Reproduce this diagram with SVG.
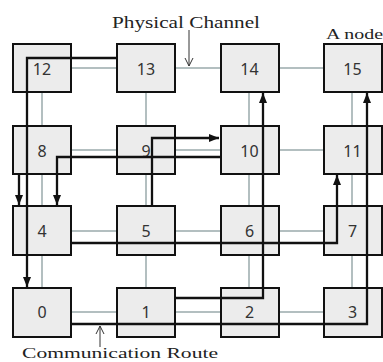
<svg xmlns="http://www.w3.org/2000/svg" width="383" height="362" viewBox="0 0 383 362">
<style>
.ch{stroke:#b3bfc0;stroke-width:2;fill:none}
.nd rect{fill:#ececec;stroke:#111;stroke-width:2}
.nd text{font-family:"Noto Sans","Open Sans",sans-serif;font-size:16px;fill:#333;text-anchor:middle}
.rt{stroke:#111;stroke-width:2.3;fill:none}
.lb{font-family:"Liberation Serif","Times New Roman",serif;fill:#222}
.la{stroke:#333;stroke-width:1;fill:none}
</style>
<defs>
<marker id="ah" markerUnits="userSpaceOnUse" markerWidth="10" markerHeight="8" refX="10" refY="4" orient="auto">
<path d="M0,0 L10,4 L0,8 z" fill="#111"/>
</marker>
</defs>
<rect width="383" height="362" fill="#fff"/>
<g id="channels">
<path class="ch" d="M42,68 H352 M42,150 H352 M42,231 H352 M42,312 H352 M42,68 V312 M146,68 V312 M249,68 V312 M352,68 V312"/>
</g>
<g id="node12" class="nd"><rect x="13" y="44" width="58" height="48"/><text x="42" y="75">12</text></g>
<g id="node13" class="nd"><rect x="117" y="44" width="58" height="48"/><text x="146" y="75">13</text></g>
<g id="node14" class="nd"><rect x="221" y="44" width="58" height="48"/><text x="249.5" y="75">14</text></g>
<g id="node15" class="nd"><rect x="324" y="44" width="58" height="48"/><text x="352.5" y="75">15</text></g>
<g id="node8" class="nd"><rect x="13" y="126" width="58" height="48"/><text x="42" y="157">8</text></g>
<g id="node9" class="nd"><rect x="117" y="126" width="58" height="48"/><text x="146" y="157">9</text></g>
<g id="node10" class="nd"><rect x="221" y="126" width="58" height="48"/><text x="249.5" y="157">10</text></g>
<g id="node11" class="nd"><rect x="324" y="126" width="58" height="48"/><text x="352.5" y="157">11</text></g>
<g id="node4" class="nd"><rect x="13" y="206" width="58" height="49"/><text x="42" y="237">4</text></g>
<g id="node5" class="nd"><rect x="117" y="206" width="58" height="49"/><text x="146" y="237">5</text></g>
<g id="node6" class="nd"><rect x="221" y="206" width="58" height="49"/><text x="249.5" y="237">6</text></g>
<g id="node7" class="nd"><rect x="324" y="206" width="58" height="49"/><text x="352.5" y="237">7</text></g>
<g id="node0" class="nd"><rect x="13" y="288" width="58" height="49"/><text x="42" y="318">0</text></g>
<g id="node1" class="nd"><rect x="117" y="288" width="58" height="49"/><text x="146" y="318">1</text></g>
<g id="node2" class="nd"><rect x="221" y="288" width="58" height="49"/><text x="249.5" y="318">2</text></g>
<g id="node3" class="nd"><rect x="324" y="288" width="58" height="49"/><text x="352.5" y="318">3</text></g>
<g id="connectors">
<path class="rt" d="M116,58 H27 V287" marker-end="url(#ah)"/>
<path class="rt" d="M220,157 H57 V205" marker-end="url(#ah)"/>
<path class="rt" d="M152,205 V138 H219" marker-end="url(#ah)"/>
<path class="rt" d="M19,175 V205" marker-end="url(#ah)"/>
<path class="rt" d="M72,243 H337 V175" marker-end="url(#ah)"/>
<path class="rt" d="M175,298 H263 V93" marker-end="url(#ah)"/>
<path class="rt" d="M72,324 H367 V93" marker-end="url(#ah)"/>
</g>
<g id="labels">
<text class="lb" x="112" y="28" font-size="16" textLength="148" lengthAdjust="spacingAndGlyphs">Physical Channel</text>
<path class="la" d="M189,30 V66 M185,58 L189,66 L193,58"/>
<text class="lb" x="326" y="39" font-size="15" textLength="57" lengthAdjust="spacingAndGlyphs">A node</text>
<text class="lb" x="22" y="358" font-size="14" textLength="196" lengthAdjust="spacingAndGlyphs">Communication Route</text>
<path class="la" d="M100,347 V326 M96,334 L100,326 L104,334"/>
</g>
</svg>
